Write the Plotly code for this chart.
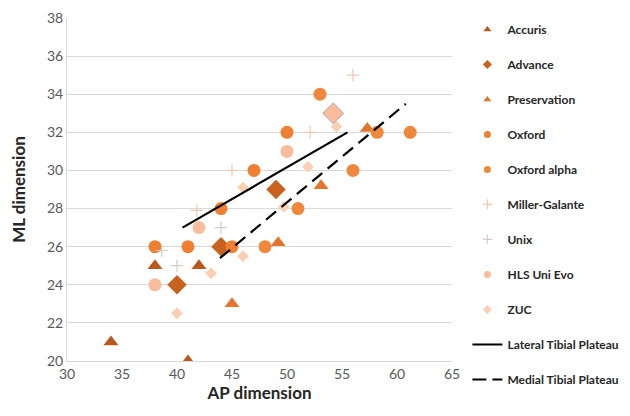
import plotly.graph_objects as go

# ---- data ----
accuris_x = [34, 38, 42, 41]
accuris_y = [21, 25, 25, 20]
advance_x = [40, 44, 49]
advance_y = [24, 26, 29]
preservation_x = [45, 49.2, 53.1, 57.3]
preservation_y = [23, 26.2, 29.2, 32.2]
oxford_x = [38, 41, 44, 45, 47, 50]
oxford_y = [26, 26, 28, 26, 30, 32]
oxford_alpha_x = [53, 51, 48, 56, 58.2, 61.2]
oxford_alpha_y = [34, 28, 26, 30, 32, 32]
miller_x = [56, 45, 41.8, 52.1]
miller_y = [35, 30, 27.9, 32]
unix_x = [44, 40, 38.6]
unix_y = [27, 25, 25.8]
hls_x = [38, 42, 50]
hls_y = [24, 27, 31]
hls_big_x = [54.2]
hls_big_y = [33]
zuc_x = [40, 43.1, 46, 46, 51.9, 54.5, 49.7]
zuc_y = [22.5, 24.6, 25.5, 29.1, 30.2, 32.3, 28.1]
lateral_x = [40.5, 55.5]
lateral_y = [27, 32]
medial_x = [43.9, 60.8]
medial_y = [25.4, 33.5]

FONT = "Lato"
fig = go.Figure()

series = [
    ("Accuris", accuris_x, accuris_y, "triangle-up", "#B8581C", 13),
    ("Advance", advance_x, advance_y, "diamond", "#C9621F", 15),
    ("Preservation", preservation_x, preservation_y, "triangle-up", "#E3762C", 13),
    ("Oxford", oxford_x, oxford_y, "circle", "#EE7F33", 13),
    ("Oxford alpha", oxford_alpha_x, oxford_alpha_y, "circle", "#F0883B", 13),
    ("Miller-Galante", miller_x, miller_y, "cross-thin", "#EFC9B2", 9),
    ("Unix", unix_x, unix_y, "cross-thin", "#D8CCC6", 9),
    ("HLS Uni Evo", hls_x, hls_y, "circle", "#F9BD9C", 13),
    ("ZUC", zuc_x, zuc_y, "diamond", "#FBCFB4", 9),
]
for name, x, y, sym, col, sz in series:
    if sym == "cross-thin":
        fig.add_trace(go.Scatter(x=x, y=y, mode="markers", name=name, showlegend=False,
                                 marker=dict(symbol=sym, size=sz, line=dict(color=col, width=1.2))))
    else:
        fig.add_trace(go.Scatter(x=x, y=y, mode="markers", name=name, showlegend=False,
                                 marker=dict(symbol=sym, color=col, size=sz)))

fig.add_trace(go.Scatter(x=hls_big_x, y=hls_big_y, mode="markers", showlegend=False,
                         marker=dict(symbol="diamond", color="#F9BD9C", size=16,
                                     line=dict(color="#B9A0B0", width=1))))

fig.add_trace(go.Scatter(x=lateral_x, y=lateral_y, mode="lines", showlegend=False,
                         line=dict(color="black", width=2.2)))
fig.add_trace(go.Scatter(x=medial_x, y=medial_y, mode="lines", showlegend=False,
                         line=dict(color="black", width=2.2, dash="13px,7px")))

# legend entries
for i, (name, x, y, sym, col, sz) in enumerate(series):
    if sym == "cross-thin":
        mk = dict(symbol="cross-thin", size=7, line=dict(color=col, width=1.2))
    else:
        mk = dict(symbol=sym, color=col, size=7)
    fig.add_trace(go.Scatter(x=[None], y=[None], mode="markers", name=name, marker=mk,
                             legendgroup="g%d" % i))
fig.add_trace(go.Scatter(x=[None], y=[None], mode="lines", name="Lateral Tibial Plateau",
                         line=dict(color="black", width=2), legendgroup="g9"))
fig.add_trace(go.Scatter(x=[None], y=[None], mode="lines", name="Medial Tibial Plateau",
                         line=dict(color="black", width=2, dash="14px,6px"), legendgroup="g10"))

fig.update_layout(
    width=622, height=408,
    margin=dict(l=59, r=178, t=10, b=55, autoexpand=False),
    plot_bgcolor="white", paper_bgcolor="white",
    font=dict(family=FONT, color="#595959"),
    legend=dict(x=1.04, xanchor="left", y=0.983, yanchor="top", yref="container",
                font=dict(family=FONT, size=12, color="#262626", weight="bold"),
                tracegroupgap=16, bgcolor="rgba(0,0,0,0)", traceorder="grouped",
                maxheight=1),
    xaxis=dict(range=[30, 65], tickvals=[30, 35, 40, 45, 50, 55, 60, 65], automargin=False,
               showgrid=False, showline=True, linecolor="#D9D9D9", linewidth=1,
               tickfont=dict(size=14, color="#595959"), ticks="", zeroline=False,
               title=dict(text="AP dimension", font=dict(size=17, color="#262626", weight="bold"),
                          standoff=6)),
    yaxis=dict(range=[20, 38], tickvals=list(range(20, 39, 2)), automargin=False,
               showgrid=True, gridcolor="#D9D9D9", gridwidth=1.3,
               showline=True, linecolor="#D9D9D9", linewidth=1,
               tickfont=dict(size=14, color="#595959"), ticks="", zeroline=False,
               title=dict(text="ML dimension", font=dict(size=17, color="#262626", weight="bold"),
                          standoff=18)),
)

fig.write_html("out.html")
